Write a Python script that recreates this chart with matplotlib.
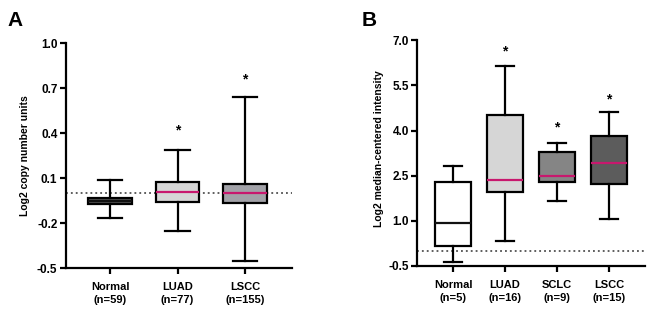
import matplotlib
matplotlib.use("Agg")
import matplotlib.pyplot as plt

plt.rcParams['font.family'] = ['Liberation Sans', 'DejaVu Sans']
plt.rcParams['font.weight'] = 'bold'

# panel A: copy number
a_groups = ['Normal\n(n=59)', 'LUAD\n(n=77)', 'LSCC\n(n=155)']
a_whislo = [-0.167, -0.249, -0.449]
a_q1 = [-0.069, -0.060, -0.067]
a_med = [-0.050, 0.007, 0.000]
a_q3 = [-0.031, 0.073, 0.060]
a_whishi = [0.087, 0.290, 0.640]
a_star = [None, 0.417, 0.760]
a_fill = ['#555555', '#d6d6d6', '#a2a2a8']
a_medc = ['#111111', '#c8186e', '#c8186e']

# panel B: median-centered intensity
b_groups = ['Normal\n(n=5)', 'LUAD\n(n=16)', 'SCLC\n(n=9)', 'LSCC\n(n=15)']
b_whislo = [-0.38, 0.33, 1.67, 1.06]
b_q1 = [0.165, 1.97, 2.28, 2.21]
b_med = [0.93, 2.35, 2.49, 2.93]
b_q3 = [2.28, 4.53, 3.30, 3.81]
b_whishi = [2.82, 6.16, 3.57, 4.62]
b_star = [None, 6.62, 4.10, 5.05]
b_fill = ['#ffffff', '#d6d6d6', '#858585', '#5c5c5c']
b_medc = ['#111111', '#c8186e', '#c8186e', '#c8186e']


def draw(ax, groups, lo, q1, med, q3, hi, stars, fills, medc, width):
    stats = []
    for i in range(len(groups)):
        stats.append(dict(whislo=lo[i], q1=q1[i], med=med[i], q3=q3[i],
                          whishi=hi[i], label=groups[i]))
    pos = list(range(len(groups)))
    bp = ax.bxp(stats, positions=pos, widths=width, patch_artist=True,
                showfliers=False,
                boxprops=dict(linewidth=1.6, edgecolor='black'),
                whiskerprops=dict(linewidth=1.6, color='black'),
                capprops=dict(linewidth=1.6, color='black'),
                medianprops=dict(linewidth=1.6),
                capwidths=0.36)
    for patch, c in zip(bp['boxes'], fills):
        patch.set_facecolor(c)
    for line, c in zip(bp['medians'], medc):
        line.set_color(c)
    for x, s in zip(pos, stars):
        if s is not None:
            ax.text(x, s, '*', ha='center', va='center', fontsize=10,
                    fontweight='bold')
    ax.axhline(0, color='#333333', linestyle=(0, (1.2, 2)), linewidth=1.1,
               zorder=0)
    for sp in ['top', 'right']:
        ax.spines[sp].set_visible(False)
    for sp in ['left', 'bottom']:
        ax.spines[sp].set_linewidth(1.6)
    ax.tick_params(width=1.6, length=4, labelsize=8.5, pad=2)
    ax.tick_params(axis='x', pad=6)
    ax.set_xticks(pos)
    ax.set_xticklabels(groups, fontsize=8, fontweight='bold',
                       linespacing=1.4)


fig = plt.figure(figsize=(6.52, 3.13), dpi=100)

ax1 = fig.add_axes([0.1008, 0.1428, 0.3472, 0.7189])
draw(ax1, a_groups, a_whislo, a_q1, a_med, a_q3, a_whishi, a_star,
     a_fill, a_medc, 0.65)
ax1.set_ylim(-0.5, 1.0)
ax1.set_yticks([-0.5, -0.2, 0.1, 0.4, 0.7, 1.0])
ax1.set_yticklabels(['-0.5', '-0.2', '0.1', '0.4', '0.7', '1.0'])
ax1.set_xlim(-0.66, 2.7)
ax1.set_ylabel('Log2 copy number units', fontsize=7.5, fontweight='bold')
ax1.yaxis.set_label_coords(-0.158, 0.5)

ax2 = fig.add_axes([0.640, 0.151, 0.349, 0.720])
draw(ax2, b_groups, b_whislo, b_q1, b_med, b_q3, b_whishi, b_star,
     b_fill, b_medc, 0.68)
ax2.set_ylim(-0.5, 7.0)
ax2.set_yticks([-0.5, 1.0, 2.5, 4.0, 5.5, 7.0])
ax2.set_yticklabels(['-0.5', '1.0', '2.5', '4.0', '5.5', '7.0'])
ax2.set_xlim(-0.69, 3.69)
ax2.set_ylabel('Log2 median-centered intensity', fontsize=7.5,
               fontweight='bold')
ax2.yaxis.set_label_coords(-0.146, 0.52)

fig.text(0.012, 0.965, 'A', fontsize=15, fontweight='bold', va='top')
fig.text(0.555, 0.965, 'B', fontsize=15, fontweight='bold', va='top')

fig.savefig('out.png', dpi=100, facecolor='white')
